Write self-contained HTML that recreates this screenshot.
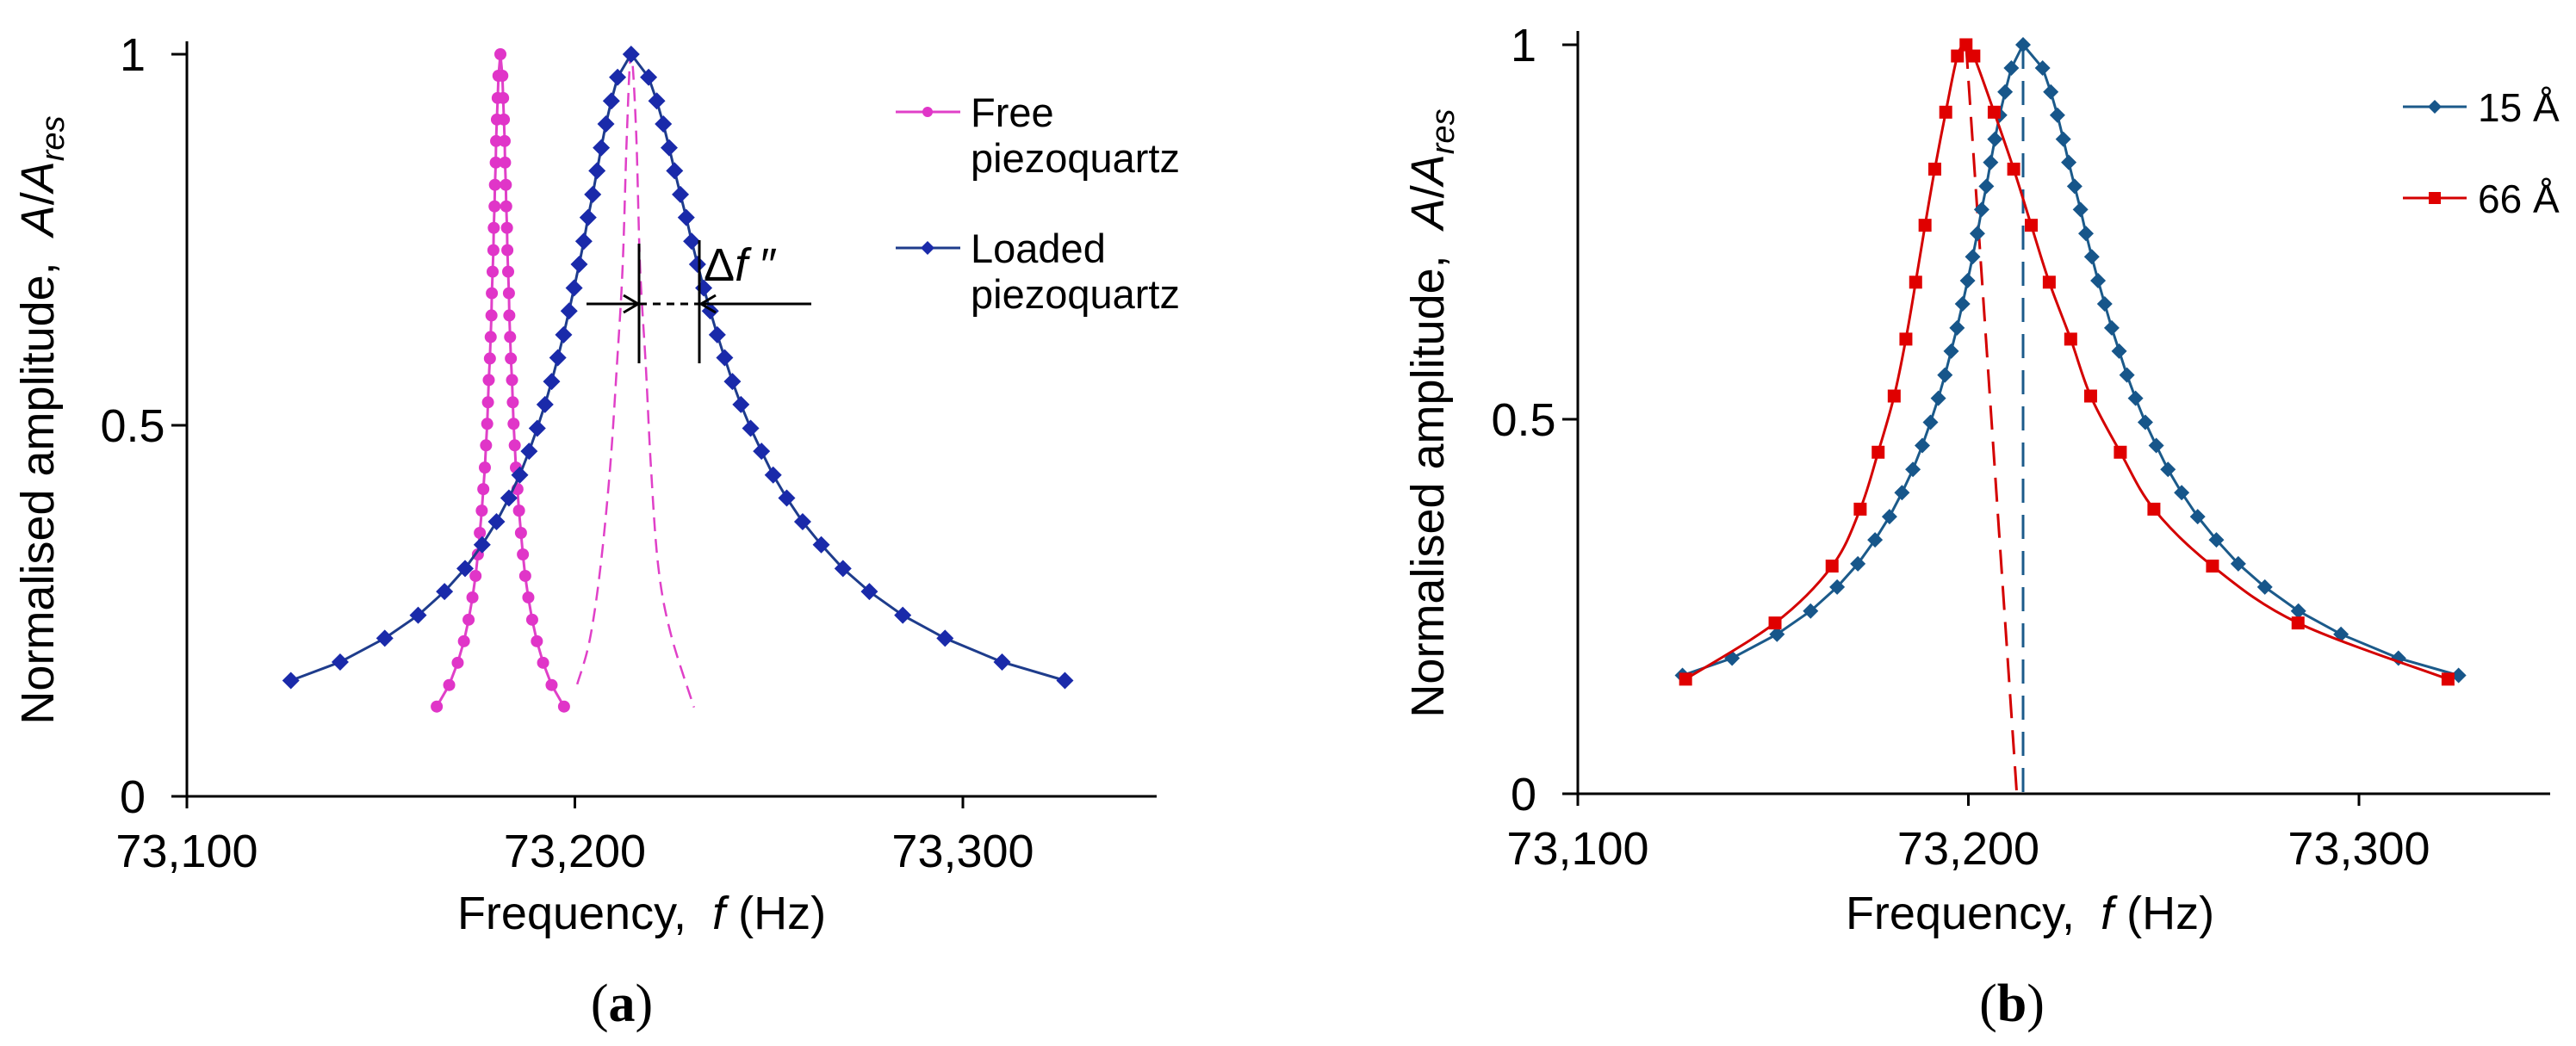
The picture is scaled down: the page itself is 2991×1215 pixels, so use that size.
<!DOCTYPE html>
<html><head><meta charset="utf-8"><style>
html,body{margin:0;padding:0;background:#fff;}
svg{display:block;font-family:"Liberation Sans",Arial,sans-serif;}
</style></head><body>
<svg id="fig" width="2991" height="1215" viewBox="0 0 2991 1215" xmlns="http://www.w3.org/2000/svg">
<g id="panelA"></g>
<g id="panelB"></g>
</svg>
<script>
// ---- Panel (a) data ----
const loadedF = [73126.8,73139.5,73151.0,73159.6,73166.4,73171.7,73176.1,73179.8,73183.0,73185.8,73188.2,73190.3,73192.3,73194.0,73195.6,73197.1,73198.5,73199.8,73201.1,73202.3,73203.4,73204.6,73205.7,73206.8,73208.0,73209.4,73211.0,73214.5,73219.0,73221.1,73222.8,73224.3,73225.7,73227.2,73228.7,73230.1,73231.6,73233.2,73234.9,73236.7,73238.6,73240.6,73242.8,73245.3,73248.1,73251.1,73254.6,73258.7,73263.5,73269.1,73275.9,73284.5,73295.4,73310.1,73326.3];
const loadedA = [0.156,0.181,0.213,0.244,0.276,0.307,0.339,0.370,0.402,0.433,0.465,0.496,0.528,0.559,0.591,0.622,0.654,0.685,0.717,0.748,0.780,0.811,0.843,0.874,0.906,0.937,0.969,1,0.969,0.937,0.906,0.874,0.843,0.811,0.780,0.748,0.717,0.685,0.654,0.622,0.591,0.559,0.528,0.496,0.465,0.433,0.402,0.370,0.339,0.307,0.276,0.244,0.213,0.181,0.156];
const freeF = [73164.4,73167.6,73169.8,73171.4,73172.6,73173.6,73174.4,73175.0,73175.5,73176.0,73176.4,73176.8,73177.1,73177.4,73177.6,73177.8,73178.1,73178.3,73178.5,73178.6,73178.8,73179.0,73179.1,73179.3,73179.4,73179.6,73179.7,73179.9,73180.1,73180.3,73180.8,73181.3,73181.5,73181.7,73181.9,73182.0,73182.2,73182.3,73182.5,73182.6,73182.8,73183.0,73183.1,73183.3,73183.5,73183.8,73184.0,73184.2,73184.5,73184.8,73185.2,73185.6,73186.1,73186.6,73187.2,73188.0,73189.0,73190.2,73191.8,73194.0,73197.2];
const freeA = [0.121,0.150,0.180,0.209,0.238,0.268,0.297,0.326,0.355,0.385,0.414,0.443,0.473,0.502,0.531,0.561,0.590,0.619,0.648,0.678,0.707,0.736,0.766,0.795,0.824,0.854,0.883,0.912,0.941,0.971,1,0.971,0.941,0.912,0.883,0.854,0.824,0.795,0.766,0.736,0.707,0.678,0.648,0.619,0.590,0.561,0.531,0.502,0.473,0.443,0.414,0.385,0.355,0.326,0.297,0.268,0.238,0.209,0.180,0.150,0.121];
const shiftedF = [73200.6,73203.8,73206.6,73209.1,73210.8,73212.3,73213.4,73214.5,73215.8,73216.8,73218.3,73219.6,73221.5,73224.7,73230.7];
const shiftedA = [0.151,0.210,0.309,0.444,0.579,0.713,0.893,1,0.893,0.713,0.579,0.444,0.309,0.219,0.120];
// ---- Panel (b) data ----
const f15 = [73126.8,73139.5,73151.0,73159.6,73166.4,73171.7,73176.1,73179.8,73183.0,73185.8,73188.2,73190.3,73192.3,73194.0,73195.6,73197.1,73198.5,73199.8,73201.1,73202.3,73203.4,73204.6,73205.7,73206.8,73208.0,73209.4,73211.0,73214.0,73219.0,73221.1,73222.8,73224.3,73225.7,73227.2,73228.7,73230.1,73231.6,73233.2,73234.9,73236.7,73238.6,73240.6,73242.8,73245.3,73248.1,73251.1,73254.6,73258.7,73263.5,73269.1,73275.9,73284.5,73295.4,73310.1,73325.5];
const a15 = [0.158,0.181,0.213,0.244,0.276,0.307,0.339,0.370,0.402,0.433,0.465,0.496,0.528,0.559,0.591,0.622,0.654,0.685,0.717,0.748,0.780,0.811,0.843,0.874,0.906,0.937,0.969,1,0.969,0.937,0.906,0.874,0.843,0.811,0.780,0.748,0.717,0.685,0.654,0.622,0.591,0.559,0.528,0.496,0.465,0.433,0.402,0.370,0.339,0.307,0.276,0.244,0.213,0.181,0.158];
const f66 = [73127.6,73150.5,73165.1,73172.3,73176.9,73181.0,73184.0,73186.5,73188.9,73191.4,73194.2,73197.2,73199.4,73201.4,73206.6,73211.6,73216.1,73220.7,73226.2,73231.3,73238.9,73247.5,73262.5,73284.4,73322.8];
const a66 = [0.153,0.228,0.304,0.380,0.456,0.531,0.607,0.683,0.759,0.834,0.910,0.985,1,0.985,0.910,0.834,0.759,0.683,0.607,0.531,0.456,0.380,0.304,0.228,0.153];
const dash15F = [73214.0,73214.0];
const dash15A = [1,0];
const dash66F = [73199.4,73212.4];
const dash66A = [1,0];
// ---- ticks ----
const xTicks = [73100,73200,73300];
const xTickLabels = ["73,100","73,200","73,300"];
const yTicks = [0,0.5,1];
const yTickLabels = ["0","0.5","1"];

const NS="http://www.w3.org/2000/svg";
function mk(parent,tag,attrs){const e=document.createElementNS(NS,tag);for(const k in attrs)e.setAttribute(k,attrs[k]);parent.appendChild(e);return e;}

function makeAxes(g,ox,oy,pxPerHz,pxPerUnit,xEnd,yTop){
  const X=f=>ox+(f-73100)*pxPerHz;
  const Y=v=>oy-v*pxPerUnit;
  let e=mk(g,'line',{x1:ox,y1:yTop,x2:ox,y2:oy,stroke:'#000','stroke-width':3});
  
  
  e=mk(g,'line',{x1:ox,y1:oy,x2:xEnd,y2:oy,stroke:'#000','stroke-width':3});
  
  
  xTicks.forEach((t,i)=>{
    const tk=mk(g,'line',{x1:X(t),y1:oy,x2:X(t),y2:oy+14,stroke:'#000','stroke-width':3});
    
    
    const tl=mk(g,'text',{x:X(t),y:oy+82,'font-size':54,'text-anchor':'middle',fill:'#000'});
    tl.textContent=xTickLabels[i];
    
    
  });
  yTicks.forEach((t,i)=>{
    const tk=mk(g,'line',{x1:ox-18,y1:Y(t),x2:ox,y2:Y(t),stroke:'#000','stroke-width':3});
    
    
    const tl=mk(g,'text',{x:ox-63,y:Y(t)+19,'font-size':54,'text-anchor':'middle',fill:'#000'});
    tl.textContent=yTickLabels[i];
    
    
  });
  return {X,Y};
}
function linePath(F,A,X,Y){return F.map((f,i)=>(i?'L':'M')+X(f).toFixed(1)+' '+Y(A[i]).toFixed(1)).join(' ');}
function smoothPath(F,A,X,Y){
  const p=F.map((f,i)=>[X(f),Y(A[i])]);
  let d='M'+p[0][0].toFixed(1)+' '+p[0][1].toFixed(1);
  for(let i=0;i<p.length-1;i++){
    const p0=p[i-1]||p[i],p1=p[i],p2=p[i+1],p3=p[i+2]||p[i+1];
    const c1=[p1[0]+(p2[0]-p0[0])/6,p1[1]+(p2[1]-p0[1])/6];
    const c2=[p2[0]-(p3[0]-p1[0])/6,p2[1]-(p3[1]-p1[1])/6];
    d+=' C'+c1[0].toFixed(1)+' '+c1[1].toFixed(1)+' '+c2[0].toFixed(1)+' '+c2[1].toFixed(1)+' '+p2[0].toFixed(1)+' '+p2[1].toFixed(1);
  }
  return d;
}
function marker(g,shape,x,y,s,color){
  let e;
  if(shape==='circle') e=mk(g,'circle',{cx:x,cy:y,r:s,fill:color});
  else if(shape==='diamond') e=mk(g,'polygon',{points:`${x},${y-s} ${x+s},${y} ${x},${y+s} ${x-s},${y}`,fill:color});
  else e=mk(g,'rect',{x:x-s,y:y-s,width:2*s,height:2*s,fill:color});
  return e;
}
function axisTitles(g,cxY,cyY,cxX,labelX){
  const yt=mk(g,'text',{transform:`translate(${cxY},${cyY}) rotate(-90)`,'font-size':54,'text-anchor':'middle',fill:'#000'});
  yt.innerHTML='Normalised amplitude,&#160; <tspan font-style="italic">A</tspan>/<tspan font-style="italic">A</tspan><tspan font-style="italic" font-size="38" dy="12">res</tspan>';
  
  
  const xt=mk(g,'text',{x:cxX,y:1079,'font-size':54,'text-anchor':'middle',fill:'#000'});
  xt.innerHTML='Frequency,&#160; <tspan font-style="italic">f</tspan> (Hz)';
  
  
  const pl=mk(g,'text',{x:labelX,y:1186,'font-size':62,'text-anchor':'middle',fill:'#000','font-family':'"Liberation Serif",serif'});
  pl.innerHTML='(<tspan font-weight="bold">'+(labelX<1500?'a':'b')+'</tspan>)';
  
  
}

// ===== Panel A =====
const gA=document.getElementById('panelA');
const A=makeAxes(gA,217,925,4.505,862,1343,48);
axisTitles(gA,62,488,745,722);
// dashed shifted curve
let e=mk(gA,'path',{d:smoothPath(shiftedF,shiftedA,A.X,A.Y),fill:'none',stroke:'#E040C8','stroke-width':2.5,'stroke-dasharray':'16 9'});


// free series
const gFree=mk(gA,'g',{});


mk(gFree,'path',{d:linePath(freeF,freeA,A.X,A.Y),fill:'none',stroke:'#E040C8','stroke-width':3});
freeF.forEach((f,i)=>{
  const m=marker(gFree,'circle',A.X(f),A.Y(freeA[i]),7,'#E035C8');
  
  
});
// loaded series
const gLoad=mk(gA,'g',{});


mk(gLoad,'path',{d:linePath(loadedF,loadedA,A.X,A.Y),fill:'none',stroke:'#1E3C8C','stroke-width':3});
loadedF.forEach((f,i)=>{
  const m=marker(gLoad,'diamond',A.X(f),A.Y(loadedA[i]),10,'#1A2AAA');
  
  
});
// annotation delta f''
const gAn=mk(gA,'g',{stroke:'#000','stroke-width':3,fill:'none'});


mk(gAn,'line',{x1:742,y1:283,x2:742,y2:422});
mk(gAn,'line',{x1:812,y1:279,x2:812,y2:422});
mk(gAn,'line',{x1:742,y1:353,x2:812,y2:353,'stroke-dasharray':'9 7'});
mk(gAn,'line',{x1:681,y1:353,x2:740,y2:353});
mk(gAn,'path',{d:'M724 343 L741 353 L724 363'});
mk(gAn,'line',{x1:814,y1:353,x2:942,y2:353});
mk(gAn,'path',{d:'M831 343 L814 353 L831 363'});
e=mk(gA,'text',{x:817,y:326,'font-size':54,fill:'#000'});
e.innerHTML='&#916;<tspan font-style="italic">f</tspan> &#8243;';


// legend A
const lgA=mk(gA,'g',{});


mk(lgA,'line',{x1:1040,y1:130,x2:1115,y2:130,stroke:'#E040C8','stroke-width':3});
marker(lgA,'circle',1077,130,6,'#E035C8');
e=mk(lgA,'text',{x:1127,y:147,'font-size':47,fill:'#000'});e.textContent='Free';


e=mk(lgA,'text',{x:1127,y:200,'font-size':47,fill:'#000'});e.textContent='piezoquartz';
mk(lgA,'line',{x1:1040,y1:288,x2:1115,y2:288,stroke:'#1E3C8C','stroke-width':3});
marker(lgA,'diamond',1077,288,8,'#1A2AAA');
e=mk(lgA,'text',{x:1127,y:305,'font-size':47,fill:'#000'});e.textContent='Loaded';


e=mk(lgA,'text',{x:1127,y:358,'font-size':47,fill:'#000'});e.textContent='piezoquartz';

// ===== Panel B =====
const gB=document.getElementById('panelB');
const B=makeAxes(gB,1832,922,4.535,870,2961,36);
axisTitles(gB,1676,480,2357,2336);
e=mk(gB,'path',{d:linePath(dash66F,dash66A,B.X,B.Y),fill:'none',stroke:'#D40000','stroke-width':3,'stroke-dasharray':'28 14'});


e=mk(gB,'path',{d:linePath(dash15F,dash15A,B.X,B.Y),fill:'none',stroke:'#1B5A8A','stroke-width':3,'stroke-dasharray':'28 14'});


const g15=mk(gB,'g',{});


mk(g15,'path',{d:linePath(f15,a15,B.X,B.Y),fill:'none',stroke:'#1B5A8A','stroke-width':3});
f15.forEach((f,i)=>{
  const m=marker(g15,'diamond',B.X(f),B.Y(a15[i]),9,'#17568A');
  
  
});
const g66=mk(gB,'g',{});


mk(g66,'path',{d:smoothPath(f66,a66,B.X,B.Y),fill:'none',stroke:'#D40000','stroke-width':3});
f66.forEach((f,i)=>{
  const m=marker(g66,'square',B.X(f),B.Y(a66[i]),7.5,'#E00000');
  
  
});
const lgB=mk(gB,'g',{});


mk(lgB,'line',{x1:2790,y1:124,x2:2864,y2:124,stroke:'#1B5A8A','stroke-width':3});
marker(lgB,'diamond',2827,124,8,'#17568A');
e=mk(lgB,'text',{x:2877,y:141,'font-size':46,fill:'#000'});e.textContent='15 Å';


mk(lgB,'line',{x1:2790,y1:230,x2:2864,y2:230,stroke:'#D40000','stroke-width':3});
marker(lgB,'square',2827,230,7,'#E00000');
e=mk(lgB,'text',{x:2877,y:247,'font-size':46,fill:'#000'});e.textContent='66 Å';


</script>
</body></html>
